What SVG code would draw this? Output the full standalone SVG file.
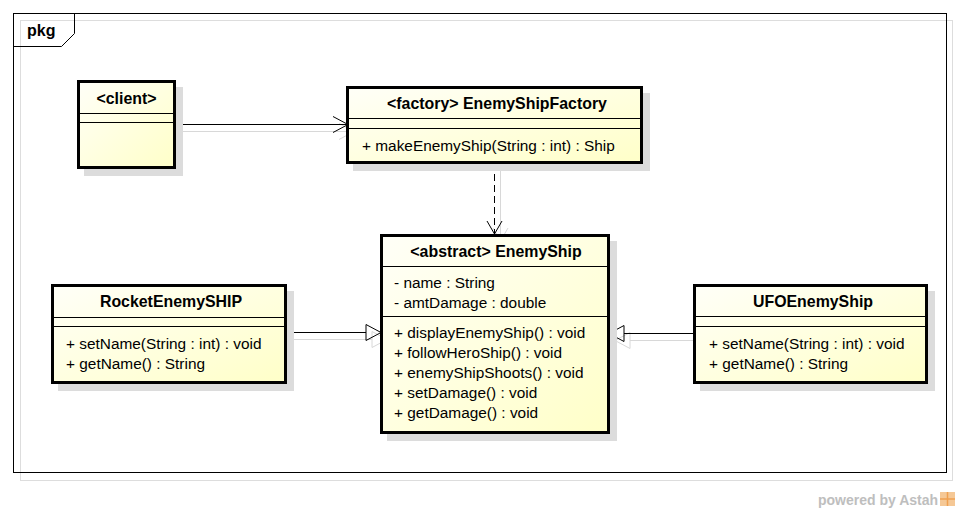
<svg xmlns="http://www.w3.org/2000/svg" width="960" height="513" viewBox="0 0 960 513">
<defs>
<linearGradient id="fill" x1="0" y1="0" x2="1" y2="1">
<stop offset="0" stop-color="#FFFFF8"/>
<stop offset="1" stop-color="#FFFFC8"/>
</linearGradient>
<style>
.box{fill:url(#fill);stroke:#000;stroke-width:3}
.shadow{fill:#DCDCDC}
.div{stroke:#000;stroke-width:1}
.t{font-family:"Liberation Sans",Arial,sans-serif;font-size:15.4px;fill:#000}
.b{font-weight:bold;text-anchor:middle;font-size:15.9px}
.ln{stroke:#000;stroke-width:1;fill:none}
.sh{stroke:#D8D8D8;stroke-width:1;fill:none}
</style>
</defs>
<rect x="0" y="0" width="960" height="513" fill="#fff"/>
<g id="frame">
<rect x="20.5" y="20.5" width="932" height="460" fill="none" stroke="#DDDDDD" stroke-width="1"/>
<rect x="13.5" y="13.5" width="933" height="459" fill="none" stroke="#000" stroke-width="1"/>
<path d="M13.5 46.5 H61.5 L74.5 33.5 V13.5" fill="none" stroke="#000" stroke-width="1"/>
<text class="t" x="27" y="36" style="font-weight:bold;font-size:16px">pkg</text>
</g>
<g id="connectors">
<g transform="translate(6,7)">
<line class="sh" x1="175" y1="124.5" x2="348" y2="124.5"/>
<polyline class="sh" points="333,116.5 348,124.5 333,132.5"/>
<line class="sh" x1="494.5" y1="163" x2="494.5" y2="234"/>
<polyline class="sh" points="487,221 494.5,234 502,221"/>
<line class="sh" x1="286" y1="332.5" x2="366" y2="332.5"/>
<polygon class="sh" points="366,324.5 381,332.5 366,340.5"/>
<line class="sh" x1="694" y1="333.5" x2="624" y2="333.5"/>
<polygon class="sh" points="624,325.5 609,333.5 624,341.5"/>
</g>
<line class="ln" x1="175" y1="124.5" x2="348" y2="124.5"/>
<polyline class="ln" points="333,116.5 348,124.5 333,132.5"/>
<line class="ln" x1="494.5" y1="163" x2="494.5" y2="234" stroke-dasharray="7,4"/>
<polyline class="ln" points="487,221 494.5,234 502,221"/>
<line class="ln" x1="286" y1="332.5" x2="366" y2="332.5"/>
<polygon class="ln" points="366,324.5 381,332.5 366,340.5" fill="#fff"/>
<line class="ln" x1="694" y1="333.5" x2="624" y2="333.5"/>
<polygon class="ln" points="624,325.5 609,333.5 624,341.5" fill="#fff"/>
</g>
<g id="client">
<rect class="shadow" x="84" y="87" width="99" height="89"/>
<rect class="box" x="78.5" y="81.5" width="96" height="86"/>
<text class="t b" x="126.5" y="104">&lt;client&gt;</text>
<line class="div" x1="78" y1="113.5" x2="175" y2="113.5"/>
<line class="div" x1="78" y1="122.5" x2="175" y2="122.5"/>
</g>
<g id="factory">
<rect class="shadow" x="353" y="93" width="297" height="78"/>
<rect class="box" x="347.5" y="87.5" width="294" height="75"/>
<text class="t b" x="497" y="109">&lt;factory&gt; EnemyShipFactory</text>
<line class="div" x1="347" y1="118.5" x2="642" y2="118.5"/>
<line class="div" x1="347" y1="128.5" x2="642" y2="128.5"/>
<text class="t" x="362" y="151">+ makeEnemyShip(String : int) : Ship</text>
</g>
<g id="enemyship">
<rect class="shadow" x="387" y="241" width="230" height="200"/>
<rect class="box" x="381.5" y="235.5" width="227" height="197"/>
<text class="t b" x="496" y="257">&lt;abstract&gt; EnemyShip</text>
<line class="div" x1="381" y1="266.5" x2="609" y2="266.5"/>
<text class="t" x="394" y="288">- name : String</text>
<text class="t" x="394" y="308">- amtDamage : double</text>
<line class="div" x1="381" y1="316.5" x2="609" y2="316.5"/>
<text class="t" x="394" y="338">+ displayEnemyShip() : void</text>
<text class="t" x="394" y="358">+ followHeroShip() : void</text>
<text class="t" x="394" y="378">+ enemyShipShoots() : void</text>
<text class="t" x="394" y="398">+ setDamage() : void</text>
<text class="t" x="394" y="418">+ getDamage() : void</text>
</g>
<g id="rocket">
<rect class="shadow" x="58" y="291" width="236" height="100"/>
<rect class="box" x="52.5" y="285.5" width="233" height="97"/>
<text class="t b" x="171" y="307">RocketEnemySHIP</text>
<line class="div" x1="52" y1="317.5" x2="286" y2="317.5"/>
<line class="div" x1="52" y1="326.5" x2="286" y2="326.5"/>
<text class="t" x="66" y="349">+ setName(String : int) : void</text>
<text class="t" x="66" y="369">+ getName() : String</text>
</g>
<g id="ufo">
<rect class="shadow" x="700" y="291" width="235" height="100"/>
<rect class="box" x="694.5" y="285.5" width="232" height="97"/>
<text class="t b" x="813" y="307">UFOEnemyShip</text>
<line class="div" x1="694" y1="316.5" x2="927" y2="316.5"/>
<line class="div" x1="694" y1="326.5" x2="927" y2="326.5"/>
<text class="t" x="709" y="349">+ setName(String : int) : void</text>
<text class="t" x="709" y="369">+ getName() : String</text>
</g>
<g id="watermark">
<text x="818" y="505" style="font-family:'Liberation Sans',Arial,sans-serif;font-weight:bold;font-size:14px;fill:#BEBEBE">powered by Astah</text>
<rect x="940" y="492" width="15" height="14" fill="#F5C896"/>
<path d="M940 499 H955 M947.5 492 V506" stroke="#F0A050" stroke-width="1.5"/>
</g>
</svg>
